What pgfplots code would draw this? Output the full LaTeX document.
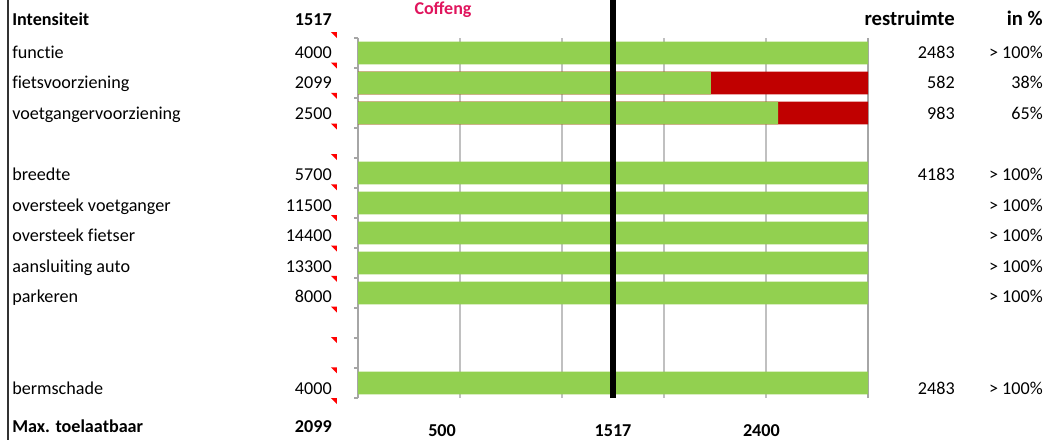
\documentclass[border=0pt]{standalone}
\usepackage{pgfplots}
\pgfplotsset{compat=1.18}
\usepackage{pgfplotstable}
\usepackage{fontspec}
\setmainfont{Carlito}[Ligatures=NoCommon]
\newfontfamily\logofont{Carlito}
\definecolor{okgreen}{HTML}{92D050}
\definecolor{overred}{HTML}{C00000}
\definecolor{gridgray}{HTML}{C0C0C0}
\definecolor{axisgray}{HTML}{A6A6A6}
\definecolor{logopink}{HTML}{E0155D}

% comment indicator (red corner triangle)
\pgfdeclareplotmark{cmt}{%
  \pgfpathmoveto{\pgfpoint{0pt}{0pt}}%
  \pgfpathlineto{\pgfpoint{-4.5pt}{0pt}}%
  \pgfpathlineto{\pgfpoint{0pt}{-4.5pt}}%
  \pgfpathclose\pgfusepathqfill}

% scale runs to 2 x 1517 = 3034; rows: 12 = functie ... 1 = bermschade
\pgfplotstableread{
y val
12 3034
11 2099
10 2500
8 3034
7 3034
6 3034
5 3034
4 3034
1 3034
}\greenbars
\pgfplotstableread{
y val
11 3034
10 3034
}\redbars

\begin{document}
\begin{tikzpicture}
\begin{axis}[
  at={(268.5pt,-28.5pt)}, anchor=north west,
  scale only axis, width=382.5pt, height=270pt,
  xmin=0, xmax=3034, ymin=0.5, ymax=12.5,
  clip=false,
  bar width=17pt,
  separate axis lines,
  x axis line style={draw=none},
  y axis line style={draw=axisgray, line width=0.9pt},
  ytick={0.5,1.5,...,12.5}, yticklabels={},
  ytick pos=left, tick align=outside, major tick length=3pt,
  ytick style={draw=axisgray, line width=0.8pt},
  xtick={606.8,1213.6,1820.4,2427.2}, xticklabels={},
  xtick pos=bottom,
  xtick style={draw=none},
  xmajorgrids, grid style={draw=gridgray, line width=0.9pt},
  extra x ticks={500,1517,2400},
  extra x tick labels={\textbf{500},\textbf{1517},\textbf{2400}},
  extra x tick style={grid=none, xtick style={draw=none}},
  xticklabel style={font=\fontsize{13.6}{16}\selectfont\bfseries,
    anchor=base, yshift=-25.5pt, inner sep=0pt},
]
\addplot[xbar, bar shift=0pt, fill=overred, draw=none] table[x=val, y=y] {\redbars};
\addplot[xbar, bar shift=0pt, fill=okgreen, draw=none] table[x=val, y=y] {\greenbars};
\addplot[black, line width=3.8pt, forget plot] coordinates {(1517,0.5) (1517,14)};
\addplot[only marks, mark=cmt, red, forget plot] coordinates {
  (-125,12.70) (-125,11.68) (-125,10.67) (-125,9.65) (-125,8.63)
  (-125,7.62) (-125,6.60) (-125,5.58) (-125,4.57) (-125,3.55)
  (-125,2.53) (-125,1.52) (-125,0.50)};
\end{axis}

\begin{scope}[x=0.75pt, y=-0.75pt, font=\fontsize{13.6}{16}\selectfont,
  every node/.style={inner sep=0pt}]
  \draw[line width=1.2pt, black!80] (8,0) -- (8,440);
  \node[anchor=base, text=logopink] at (443,14)
    {\logofont\fontsize{13.5}{15}\selectfont\bfseries Coffeng};
  \node[anchor=base west] at (12,25) {\bfseries Intensiteit};
  \node[anchor=base east] at (332,25) {\bfseries 1517};
  \node[anchor=base east] at (955,25) {\fontsize{15.5}{18}\selectfont\bfseries restruimte};
  \node[anchor=base east] at (1043,25) {\fontsize{15.5}{18}\selectfont\bfseries in \%};
  \foreach \k/\lab/\num in {1/functie/4000, 2/fietsvoorziening/2099,
      3/voetgangervoorziening/2500, 5/breedte/5700,
      6/oversteek voetganger/11500, 7/oversteek fietser/14400,
      8/aansluiting auto/13300, 9/parkeren/8000, 12/bermschade/4000} {
    \node[anchor=base west] at (12,{58+30.6*(\k-1)}) {\lab};
    \node[anchor=base east] at (332,{58+30.6*(\k-1)}) {\num};
  }
  \foreach \k/\r/\p in {1/2483/{> 100\%}, 2/582/38\%, 3/983/65\%,
      5/4183/{> 100\%}, 6//{> 100\%}, 7//{> 100\%}, 8//{> 100\%},
      9//{> 100\%}, 12/2483/{> 100\%}} {
    \node[anchor=base east] at (955,{58+30.6*(\k-1)}) {\r};
    \node[anchor=base east] at (1043,{58+30.6*(\k-1)}) {\p};
  }
  \node[anchor=base west] at (12,432) {\bfseries Max. toelaatbaar};
  \node[anchor=base east] at (332,432) {\bfseries 2099};
  \pgfresetboundingbox
  \useasboundingbox (0,0) rectangle (1046,440);
\end{scope}
\end{tikzpicture}
\end{document}
